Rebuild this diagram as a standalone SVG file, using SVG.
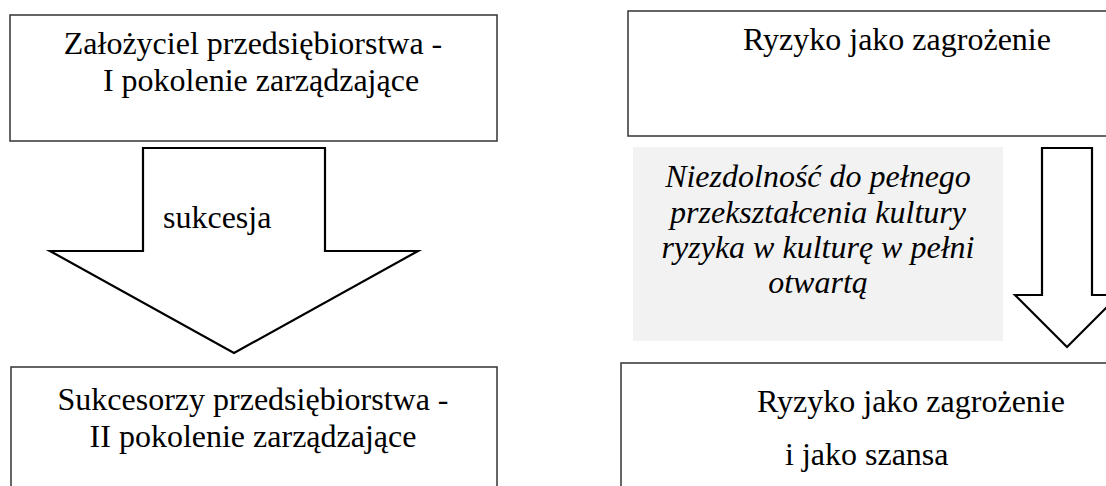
<svg xmlns="http://www.w3.org/2000/svg" width="1106" height="486" viewBox="0 0 1106 486">
<style>
.box{fill:#fff;stroke:#333;stroke-width:1.5}
.arrow{fill:#fff;stroke:#000;stroke-width:2.2;stroke-linejoin:miter}
.t{font-family:"Liberation Serif","Times New Roman",serif;font-size:32px;fill:#000}
.i{font-style:italic;text-anchor:middle}
.c{text-anchor:middle}
</style>
<rect width="1106" height="486" fill="#fff"/>
<g id="connectors">
<polygon class="arrow" points="143,148 325,148 325,251 418,251 234,353 50,251 143,251"/>
<polygon class="arrow" points="1042,148 1092,148 1092,295 1119,295 1067,347 1015,295 1042,295"/>
</g>
<g id="label-sukcesja"><text class="t" x="163" y="228">sukcesja</text></g>
<g id="node-founder">
<rect class="box" x="10" y="15" width="487" height="126"/>
<text class="t c" x="253" y="54">Założyciel przedsiębiorstwa -</text>
<text class="t c" x="261" y="91">I pokolenie zarządzające</text>
</g>
<g id="node-successors">
<rect class="box" x="11" y="367" width="486" height="140"/>
<text class="t c" x="253" y="410">Sukcesorzy przedsiębiorstwa -</text>
<text class="t c" x="253" y="447">II pokolenie zarządzające</text>
</g>
<g id="node-risk-threat">
<rect class="box" x="628" y="11" width="500" height="125"/>
<text class="t" x="743" y="50">Ryzyko jako zagrożenie</text>
</g>
<g id="node-inability">
<rect x="633" y="147" width="370" height="194" fill="#f2f2f2"/>
<text class="t i" x="818" y="187">Niezdolność do pełnego</text>
<text class="t i" x="818" y="223">przekształcenia kultury</text>
<text class="t i" x="818" y="258">ryzyka w kulturę w pełni</text>
<text class="t i" x="818" y="293">otwartą</text>
</g>
<g id="node-risk-both">
<rect class="box" x="621" y="363" width="500" height="140"/>
<text class="t" x="757" y="412">Ryzyko jako zagrożenie</text>
<text class="t" x="785" y="465">i jako szansa</text>
</g>
</svg>
